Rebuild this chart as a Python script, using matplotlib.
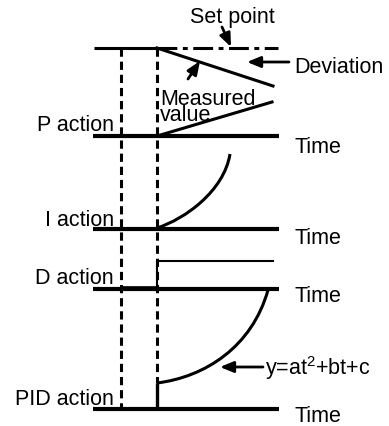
import matplotlib
matplotlib.use("Agg")
import matplotlib.pyplot as plt
from matplotlib.path import Path
from matplotlib.patches import PathPatch

plt.rcParams['font.family'] = ['Liberation Sans', 'DejaVu Sans']
plt.rcParams['mathtext.fontset'] = 'custom'
plt.rcParams['mathtext.rm'] = 'Liberation Sans'
plt.rcParams['mathtext.it'] = 'Liberation Sans'

# --- data (picture coordinates) ---
row_labels = ["P action", "I action", "D action", "PID action"]
row_label_baselines = [131, 226, 284, 405]
baseline_y = [137, 230, 290, 410]
time_label_baselines = [153, 244, 302, 422]
setpoint_y = 49
t_start = 121
t_step = 157
x_left = 93
x_right = 279

# P action: deviation / measured value lines
deviation_x = [157, 273]
deviation_y = [49, 87]
measured_x = [157, 272]
measured_y = [137, 103]

# I action curve (cubic Bezier: start, control, control, end)
i_curve_x = [157, 185, 224, 230]
i_curve_y = [229, 220, 192, 155]

# D action
d_pre_x = [121, 157]
d_pre_y = [287.5, 287.5]
d_pulse_x = [157, 157, 273]
d_pulse_y = [287.5, 262, 262]

# PID action (step, then cubic Bezier: start, control, control, end)
pid_step_x = [157, 157]
pid_step_y = [410, 384]
pid_curve_x = [157, 205, 252, 268]
pid_curve_y = [384, 378, 348, 291]

fig = plt.figure(figsize=(3.89, 4.27), dpi=100)
ax = fig.add_axes([0, 0, 1, 1])
ax.set_xlim(0, 389)
ax.set_ylim(427, 0)
ax.axis('off')

FS = 15.5
K = 'black'

# baselines
for y in baseline_y:
    ax.plot([x_left, x_right], [y, y], color=K, lw=3.0, solid_capstyle='butt')

# set point line
ax.plot([94, t_step], [setpoint_y, setpoint_y], color=K, lw=2.2, solid_capstyle='butt')
ax.plot([t_step, 278], [setpoint_y, setpoint_y], color=K, lw=2.2,
        dashes=(6.5, 1.8, 1.6, 1.8))

# dashed verticals
ax.plot([t_start, t_start], [setpoint_y, baseline_y[3]], color=K, lw=2.2, dashes=(2.7, 1.6))
ax.plot([t_step, t_step], [setpoint_y, pid_step_y[1]], color=K, lw=2.2, dashes=(2.7, 1.6))

# P action lines
ax.plot(deviation_x, deviation_y, color=K, lw=2.2)
ax.plot(measured_x, measured_y, color=K, lw=2.2)


def bezier(xs, ys, lw):
    verts = list(zip(xs, ys))
    codes = [Path.MOVETO, Path.CURVE4, Path.CURVE4, Path.CURVE4]
    ax.add_patch(PathPatch(Path(verts, codes), facecolor='none', edgecolor=K, lw=lw))


# I action
bezier(i_curve_x, i_curve_y, 2.2)

# D action
ax.plot(d_pre_x, d_pre_y, color=K, lw=1.2)
ax.plot(d_pulse_x, d_pulse_y, color=K, lw=1.5)

# PID action
ax.plot(pid_step_x, pid_step_y, color=K, lw=2.4, solid_capstyle='butt')
bezier(pid_curve_x, pid_curve_y, 2.2)

# arrows
aprops = dict(arrowstyle='-|>,head_length=0.8,head_width=0.33', color=K, lw=2.0,
              shrinkA=0, shrinkB=0, mutation_scale=10)
ax.annotate('', xy=(231, 48), xytext=(222, 28), arrowprops=aprops)
ax.annotate('', xy=(247, 63), xytext=(289, 63), arrowprops=aprops)
ax.annotate('', xy=(200, 62), xytext=(188, 80), arrowprops=aprops)
ax.annotate('', xy=(220, 368), xytext=(263, 368), arrowprops=aprops)

# texts
ax.text(232, 23, "Set point", fontsize=FS, ha='center', va='baseline')
ax.text(294, 73, "Deviation", fontsize=FS, ha='left', va='baseline')
ax.text(160, 89, "Measured\nvalue", fontsize=FS, ha='left', va='top', linespacing=0.66)
for lab, yb in zip(row_labels, row_label_baselines):
    ax.text(114, yb, lab, fontsize=FS, ha='right', va='baseline')
for yb in time_label_baselines:
    ax.text(295, yb, "Time", fontsize=FS, ha='left', va='baseline')
ax.text(265, 375, r"y=at$^{\mathrm{2}}$+bt+c", fontsize=FS, ha='left', va='baseline')

fig.savefig("out.png", dpi=100)
